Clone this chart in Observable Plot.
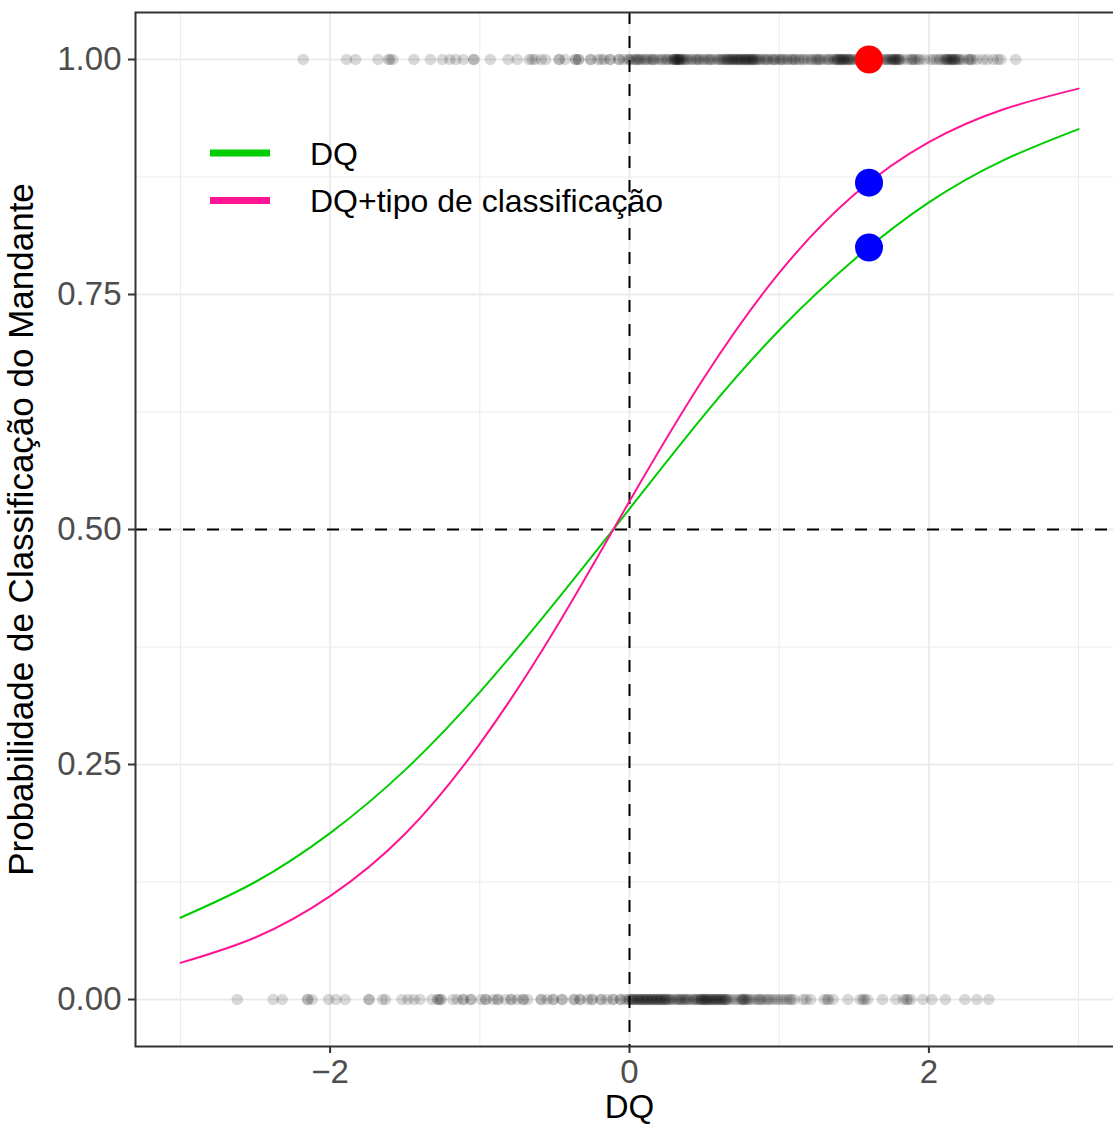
<!DOCTYPE html>
<html><head><meta charset="utf-8">
<script src="https://cdn.jsdelivr.net/npm/d3@7"></script>
<script src="https://cdn.jsdelivr.net/npm/@observablehq/plot@0.6"></script>
<style>
html,body{margin:0;padding:0;background:#fff;overflow:hidden}
#wrap{position:relative;width:1113px;height:1124px;overflow:hidden;background:#fff}
#wrap svg.plot{max-width:none!important}
#legend{position:absolute;left:0;top:0}
</style></head><body><div id="wrap"></div>
<script>
// DQ values of observations with outcome 1 (home side classified)
const dqOne = [-2.18, -1.89, -1.83, -1.68, -1.61, -1.60, -1.58, -1.44, -1.33, -1.25, -1.20, -1.16, -1.11, -1.04, -1.04,
  -0.93, -0.81, -0.75, -0.67, -0.65, -0.63, -0.59, -0.56, -0.47, -0.47, -0.43, -0.36, -0.36, -0.34, -0.34, -0.26,
  -0.26, -0.21, -0.19, -0.17, -0.13, -0.13, -0.07, -0.07, -0.04, -0.01,
  0.00, 0.01, 0.03, 0.04, 0.05, 0.07, 0.08, 0.10, 0.11, 0.12, 0.14, 0.15, 0.17, 0.19, 0.21, 0.22, 0.24, 0.26, 0.28,
  0.29, 0.30, 0.30, 0.31, 0.32, 0.33, 0.33, 0.34, 0.35, 0.36, 0.38, 0.39, 0.41, 0.42, 0.44, 0.46, 0.47, 0.49, 0.50,
  0.52, 0.54, 0.55, 0.57, 0.59, 0.60, 0.62, 0.63, 0.64, 0.65, 0.66, 0.67, 0.68, 0.69, 0.70, 0.71, 0.72, 0.73, 0.74,
  0.75, 0.76, 0.77, 0.78, 0.79, 0.80, 0.81, 0.82, 0.83, 0.84, 0.85, 0.87, 0.88, 0.90, 0.92, 0.93, 0.95, 0.97, 0.98,
  1.00, 1.01, 1.03, 1.05, 1.06, 1.08, 1.10, 1.11, 1.13, 1.14, 1.16, 1.19, 1.21, 1.22, 1.24, 1.25, 1.27, 1.28, 1.30,
  1.32, 1.34, 1.36, 1.37, 1.38, 1.39, 1.40, 1.41, 1.42, 1.43, 1.44, 1.45, 1.46, 1.47, 1.48, 1.50, 1.52, 1.53, 1.55,
  1.56, 1.58, 1.60, 1.62, 1.64, 1.66, 1.68, 1.70, 1.71, 1.73, 1.74, 1.75, 1.76, 1.77, 1.78, 1.79, 1.80, 1.81, 1.83,
  1.86, 1.88, 1.89, 1.91, 1.93, 1.94, 1.97, 2.01, 2.03, 2.05, 2.08, 2.10, 2.11, 2.12, 2.13, 2.14, 2.15, 2.16, 2.17,
  2.18, 2.19, 2.21, 2.23, 2.26, 2.28, 2.29, 2.32, 2.36, 2.39, 2.43, 2.46, 2.48, 2.58,
  0.06, 0.16, 0.25, 0.31, 0.32, 0.34, 0.37, 0.45, 0.53, 0.61, 0.66, 0.69, 0.72, 0.74, 0.77, 0.79, 0.81, 0.83, 0.86,
  0.91, 0.96, 1.02, 1.09, 1.17, 1.26, 1.33, 1.39, 1.41, 1.43, 1.46, 1.49, 1.54, 1.72, 1.76, 1.78, 1.80, 1.90, 2.07,
  2.12, 2.15, 2.17, 2.20, 2.27];
// DQ values of observations with outcome 0
const dqZero = [-2.62, -2.38, -2.32, -2.15, -2.15, -2.12, -2.01, -1.96, -1.90, -1.74, -1.74, -1.65, -1.63, -1.52, -1.48,
  -1.44, -1.40, -1.32, -1.28, -1.28, -1.26, -1.26, -1.18, -1.15, -1.11, -1.11, -1.06, -1.06, -0.99, -0.96, -0.96,
  -0.91, -0.88, -0.88, -0.83, -0.79, -0.79, -0.75, -0.71, -0.71, -0.68, -0.59, -0.59, -0.55, -0.51, -0.51, -0.45,
  -0.45, -0.37, -0.37, -0.33, -0.33, -0.28, -0.25, -0.25, -0.19, -0.19, -0.15, -0.11, -0.11, -0.06, -0.06, -0.03, -0.01,
  0.00, 0.01, 0.02, 0.03, 0.04, 0.05, 0.06, 0.07, 0.08, 0.09, 0.10, 0.11, 0.12, 0.13, 0.14, 0.15, 0.16, 0.17, 0.18,
  0.19, 0.20, 0.21, 0.22, 0.23, 0.24, 0.25, 0.26, 0.28, 0.29, 0.31, 0.32, 0.34, 0.35, 0.36, 0.38, 0.39, 0.40, 0.42,
  0.43, 0.45, 0.46, 0.47, 0.48, 0.49, 0.50, 0.51, 0.52, 0.53, 0.54, 0.55, 0.56, 0.57, 0.58, 0.59, 0.60, 0.61, 0.62,
  0.63, 0.64, 0.65, 0.66, 0.68, 0.70, 0.72, 0.74, 0.75, 0.76, 0.77, 0.78, 0.80, 0.82, 0.84, 0.86, 0.88, 0.90, 0.92,
  0.93, 0.95, 0.97, 0.99, 1.01, 1.03, 1.05, 1.07, 1.08, 1.10,
  0.02, 0.06, 0.09, 0.12, 0.15, 0.18, 0.21, 0.24, 0.27, 0.33, 0.37, 0.44, 0.48, 0.50, 0.52, 0.55, 0.58, 0.61, 0.64,
  0.76, 0.79, 0.87,
  1.16, 1.18, 1.21, 1.30, 1.32, 1.33, 1.36, 1.46, 1.54, 1.56, 1.57, 1.59, 1.69, 1.78, 1.83, 1.85, 1.86, 1.88, 1.96,
  2.02, 2.11, 2.24, 2.32, 2.40];

// fitted curves
const curveX = [-3, -2.5, -2, -1.5, -1, -0.5, 0, 0.5, 1, 1.5, 2, 2.5, 3];
const probDQ = [0.087, 0.125, 0.177, 0.244, 0.327, 0.422, 0.522, 0.622, 0.712, 0.787, 0.848, 0.893, 0.926];
const probDQTipo = [0.039, 0.066, 0.110, 0.176, 0.272, 0.393, 0.530, 0.662, 0.773, 0.856, 0.912, 0.947, 0.969];

const seriesNames = ["DQ", "DQ+tipo de classificação"];
const seriesColors = ["#00CD00", "#FF1493"];

// highlighted example
const exampleDQ = 1.6;
const exampleObserved = [1];
const examplePredicted = [0.80, 0.869];

const xTicks = [-2, 0, 2];
const xMinor = [-3, -1, 1, 3];
const yTicks = [0, 0.25, 0.5, 0.75, 1];
const yMinor = [0.125, 0.375, 0.625, 0.875];
const refX = [0];
const refY = [0.5];

const points = [
  ...dqOne.map(x => ({x, y: 1})),
  ...dqZero.map(x => ({x, y: 0}))
];
const curves = curveX.flatMap((x, i) => [
  {x, p: probDQ[i], modelo: seriesNames[0]},
  {x, p: probDQTipo[i], modelo: seriesNames[1]}
]);

const font = "'Liberation Sans', Arial, Helvetica, sans-serif";
const fs = 33;
const fmtX = d => (d < 0 ? "\u2212" : "") + Math.abs(d);

const chart = Plot.plot({
  width: 1123,
  height: 1124,
  marginLeft: 135,
  marginRight: 0,
  marginTop: 12,
  marginBottom: 78,
  style: {fontFamily: font, fontSize: fs + "px", background: "#fff", maxWidth: "none"},
  x: {domain: [-3.3, 3.3]},
  y: {domain: [-0.05, 1.05]},
  color: {domain: seriesNames, range: seriesColors},
  marks: [
    Plot.gridX(xMinor, {stroke: "#EBEBEB", strokeOpacity: 1, strokeWidth: 1}),
    Plot.gridY(yMinor, {stroke: "#EBEBEB", strokeOpacity: 1, strokeWidth: 1}),
    Plot.gridX(xTicks, {stroke: "#EBEBEB", strokeOpacity: 1, strokeWidth: 2}),
    Plot.gridY(yTicks, {stroke: "#EBEBEB", strokeOpacity: 1, strokeWidth: 2}),
    Plot.dot(points, {x: "x", y: "y", r: 5.8, fill: "black", fillOpacity: 0.15, stroke: null}),
    Plot.ruleX(refX, {stroke: "black", strokeWidth: 2, strokeDasharray: "12,12"}),
    Plot.ruleY(refY, {stroke: "black", strokeWidth: 2, strokeDasharray: "12,12"}),
    Plot.line(curves, {x: "x", y: "p", stroke: "modelo", z: "modelo", curve: "natural", strokeWidth: 2}),
    Plot.dot(exampleObserved, {x: () => exampleDQ, y: d => d, r: 14, fill: "#FF0000", stroke: null}),
    Plot.dot(examplePredicted, {x: () => exampleDQ, y: d => d, r: 14, fill: "#0000FF", stroke: null}),
    Plot.frame({stroke: "#333333", strokeWidth: 2}),
    Plot.axisX(xTicks, {tickSize: 7, tickPadding: 6, stroke: "#333333", strokeWidth: 2, fill: "#4D4D4D", label: null, tickFormat: fmtX, fontSize: fs}),
    Plot.axisY(yTicks, {tickSize: 7, tickPadding: 7, stroke: "#333333", strokeWidth: 2, fill: "#4D4D4D", label: null, tickFormat: d3.format(".2f"), fontSize: fs}),
    Plot.text(["DQ"], {frameAnchor: "bottom", dy: 61, textAnchor: "middle", lineAnchor: "middle", fill: "black", fontSize: fs}),
    Plot.text(["Probabilidade de Classificação do Mandante"], {frameAnchor: "left", dx: -114, rotate: -90, textAnchor: "middle", lineAnchor: "middle", fill: "black", fontSize: 35})
  ]
});

const wrap = document.getElementById("wrap");
wrap.appendChild(chart);

// legend overlay (inside the panel, top-left)
const leg = d3.select(wrap).append("svg").attr("id", "legend")
  .attr("width", 700).attr("height", 260);
seriesNames.forEach((name, i) => {
  const cy = 153 + i * 47.5;
  leg.append("line").attr("x1", 210).attr("x2", 270).attr("y1", cy).attr("y2", cy)
    .attr("stroke", seriesColors[i]).attr("stroke-width", 7);
  leg.append("text").attr("x", 310).attr("y", cy).attr("dy", "0.36em")
    .attr("font-family", font).attr("font-size", 32).attr("fill", "black").text(name);
});
</script>
</body></html>
